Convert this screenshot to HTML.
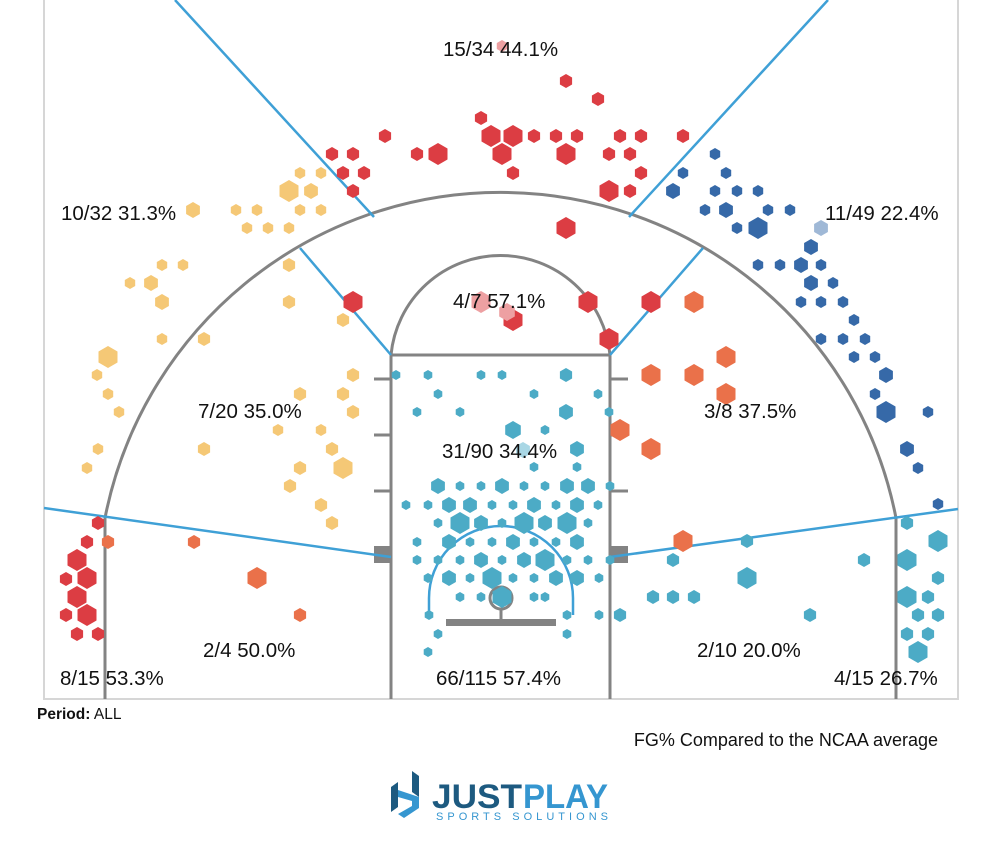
<!DOCTYPE html>
<html><head><meta charset="utf-8"><style>
html,body{margin:0;padding:0;background:#fff;width:1000px;height:857px;overflow:hidden}
svg{position:absolute;left:0;top:0}
text{font-family:"Liberation Sans",Arial,sans-serif}
</style></head><body>
<svg id="s" width="1000" height="857" viewBox="0 0 1000 857">
<g fill="none" stroke="#d6d6d6" stroke-width="2">
<path d="M44,0 V699 H958 V0"/>
</g>
<g fill="none" stroke="#838383" stroke-width="3">
<path d="M105,699 V518 A403,403 0 0 1 896,518 V699"/>
<path d="M391,699 V355 H610 V699"/>
<path d="M391,355 A110,110 0 0 1 610,355"/>
<path d="M374,379 H391 M374,435 H391 M374,491 H391 M610,379 H628 M610,435 H628 M610,491 H628"/>
<circle cx="501" cy="598" r="11"/>
<path d="M501,609 V622"/>
</g>
<rect x="374" y="546" width="17" height="17" fill="#838383"/>
<rect x="610" y="546" width="18" height="17" fill="#838383"/>
<rect x="446" y="619" width="110" height="7" fill="#838383"/>
<g fill="none" stroke="#3fa0d6" stroke-width="2.5">
<path d="M175,0 L374,217 M300,248 L391,355 M828,0 L629,217 M703,248 L610,355 M44,508 L391,557 M610,557 L958,509"/>
<path d="M429,615 V598 A72,72 0 0 1 573,598 V615"/>
</g>
<g id="hx"></g>
<g font-size="20.5" fill="#111">
<text x="443" y="56">15/34 44.1%</text>
<text x="61" y="220">10/32 31.3%</text>
<text x="825" y="220">11/49 22.4%</text>
<text x="453" y="308">4/7 57.1%</text>
<text x="198" y="418">7/20 35.0%</text>
<text x="704" y="418">3/8 37.5%</text>
<text x="442" y="458">31/90 34.4%</text>
<text x="203" y="657">2/4 50.0%</text>
<text x="697" y="657">2/10 20.0%</text>
<text x="60" y="685">8/15 53.3%</text>
<text x="436" y="685">66/115 57.4%</text>
<text x="834" y="685">4/15 26.7%</text>
</g>
<text x="37" y="719" font-size="15.5" fill="#111"><tspan font-weight="bold">Period:</tspan> ALL</text>
<text x="938" y="746" font-size="18" fill="#111" text-anchor="end">FG% Compared to the NCAA average</text>
<g>
<path d="M391,787 L398,782 V807 L391,812 Z" fill="#1d5a80"/>
<path d="M412,771 L419,776 V797 L412,792 Z" fill="#1d5a80"/>
<path d="M398,790 L419,797 V808 L404,818 L398,814 L412,806 V801 L398,797 Z" fill="#3596d0"/>
<text x="432" y="808" font-size="34" font-weight="bold" fill="#1d5a80" textLength="90" lengthAdjust="spacingAndGlyphs">JUST</text>
<text x="523" y="808" font-size="34" font-weight="bold" fill="#3596d0" textLength="85" lengthAdjust="spacingAndGlyphs">PLAY</text>
<text x="436" y="820" font-size="11" fill="#3596d0" textLength="172" lengthAdjust="spacing">SPORTS SOLUTIONS</text>
</g>
</svg>
<script>
var C={r:"#dc3d43",p:"#eda0a2",y:"#f5c876",o:"#ea714a",b:"#3669a8",t:"#4cabc6",l:"#a9d7e5",lb:"#9fb8d6"};
var H=[
["r",566,81,7],["r",598,99,7],["r",481,118,7],["r",491,136,11],["r",513,136,11],["r",534,136,7],["r",556,136,7],["r",577,136,7],["r",620,136,7],["r",641,136,7],["r",683,136,7],
["r",385,136,7],["r",332,154,7],["r",353,154,7],["r",417,154,7],["r",438,154,11],["r",502,154,11],["r",566,154,11],["r",609,154,7],["r",630,154,7],
["r",343,173,7],["r",364,173,7],["r",513,173,7],["r",641,173,7],["r",353,191,7],["r",609,191,11],["r",630,191,7],["r",566,228,11],
["r",353,302,11],["r",588,302,11],["r",651,302,11],["r",513,320,11],["r",609,339,11],["p",481,302,11],["p",507,312,9],["p",502,46,6],
["y",300,173,6],["y",321,173,6],["y",289,191,11],["y",311,191,8],["y",236,210,6],["y",257,210,6],["y",300,210,6],["y",321,210,6],["y",247,228,6],["y",268,228,6],["y",289,228,6],
["y",162,265,6],["y",183,265,6],["y",130,283,6],["y",151,283,8],["y",162,302,8],["y",289,265,7],["y",289,302,7],["y",343,320,7],["y",162,339,6],["y",204,339,7],
["y",108,357,11],["y",97,375,6],["y",108,394,6],["y",119,412,6],["y",353,375,7],["y",343,394,7],["y",353,412,7],["y",300,394,7],["y",278,430,6],["y",321,430,6],
["y",98,449,6],["y",87,468,6],["y",204,449,7],["y",332,449,7],["y",300,468,7],["y",343,468,11],["y",290,486,7],["y",321,505,7],["y",332,523,7],["y",193,210,8],
["r",98,523,7],["r",87,542,7],["r",77,560,11],["r",66,579,7],["r",87,578,11],["r",77,597,11],["r",66,615,7],["r",87,615,11],["r",77,634,7],["r",98,634,7],
["o",108,542,7],["o",194,542,7],["o",257,578,11],["o",300,615,7],["o",694,302,11],["o",726,357,11],["o",651,375,11],["o",694,375,11],["o",726,394,11],["o",620,430,11],["o",651,449,11],["o",683,541,11],
["b",715,154,6],["b",683,173,6],["b",726,173,6],["b",673,191,8],["b",715,191,6],["b",737,191,6],["b",758,191,6],["b",705,210,6],["b",726,210,8],["b",768,210,6],["b",790,210,6],
["b",737,228,6],["b",758,228,11],["lb",821,228,8],["b",811,247,8],["b",758,265,6],["b",780,265,6],["b",801,265,8],["b",821,265,6],["b",811,283,8],["b",833,283,6],
["b",801,302,6],["b",821,302,6],["b",843,302,6],["b",854,320,6],["b",821,339,6],["b",843,339,6],["b",865,339,6],["b",854,357,6],["b",875,357,6],["b",886,375,8],["b",875,394,6],["b",886,412,11],["b",928,412,6],
["b",907,449,8],["b",918,468,6],["b",938,504,6],
["t",673,560,7],["t",747,541,7],["t",653,597,7],["t",673,597,7],["t",694,597,7],["t",747,578,11],["t",864,560,7],["t",810,615,7],["t",620,615,7],
["t",907,523,7],["t",938,541,11],["t",907,560,11],["t",938,578,7],["t",907,597,11],["t",928,597,7],["t",918,615,7],["t",938,615,7],["t",907,634,7],["t",928,634,7],["t",918,652,11],
["t",396,375,5],["t",428,375,5],["t",481,375,5],["t",502,375,5],["t",566,375,7],["t",438,394,5],["t",417,412,5],["t",460,412,5],["t",534,394,5],["t",598,394,5],["t",566,412,8],["t",609,412,5],
["t",513,430,9],["t",545,430,5],["t",577,467,5],["t",534,467,5],["t",577,449,8],["t",587,486,5],["l",523,450,8],
["t",438,486,8],["t",460,486,5],["t",481,486,5],["t",502,486,8],["t",524,486,5],["t",545,486,5],["t",567,486,8],["t",588,486,8],["t",610,486,5],
["t",406,505,5],["t",428,505,5],["t",449,505,8],["t",470,505,8],["t",492,505,5],["t",513,505,5],["t",534,505,8],["t",556,505,5],["t",577,505,8],["t",598,505,5],
["t",438,523,5],["t",460,523,11],["t",481,523,8],["t",502,523,5],["t",524,523,11],["t",545,523,8],["t",567,523,11],["t",588,523,5],
["t",417,542,5],["t",449,542,8],["t",470,542,5],["t",492,542,5],["t",513,542,8],["t",534,542,5],["t",556,542,5],["t",577,542,8],
["t",417,560,5],["t",438,560,5],["t",460,560,5],["t",481,560,8],["t",502,560,5],["t",524,560,8],["t",545,560,11],["t",567,560,5],["t",588,560,5],["t",610,560,5],
["t",428,578,5],["t",449,578,8],["t",470,578,5],["t",492,578,11],["t",513,578,5],["t",534,578,5],["t",556,578,8],["t",577,578,8],["t",599,578,5],
["t",460,597,5],["t",481,597,5],["t",502,597,11],["t",534,597,5],["t",545,597,5],["t",429,615,5],["t",567,615,5],["t",599,615,5],["t",438,634,5],["t",567,634,5],["t",428,652,5]
];
var g=document.getElementById("hx"),s="";
H.forEach(function(h){var r=h[3],p=[];for(var i=0;i<6;i++){var a=Math.PI/3*i+Math.PI/6;p.push((h[1]+r*Math.cos(a)).toFixed(1)+","+(h[2]+r*Math.sin(a)).toFixed(1));}
s+='<polygon points="'+p.join(" ")+'" fill="'+C[h[0]]+'"/>';});
g.innerHTML=s;
</script>
</body></html>
